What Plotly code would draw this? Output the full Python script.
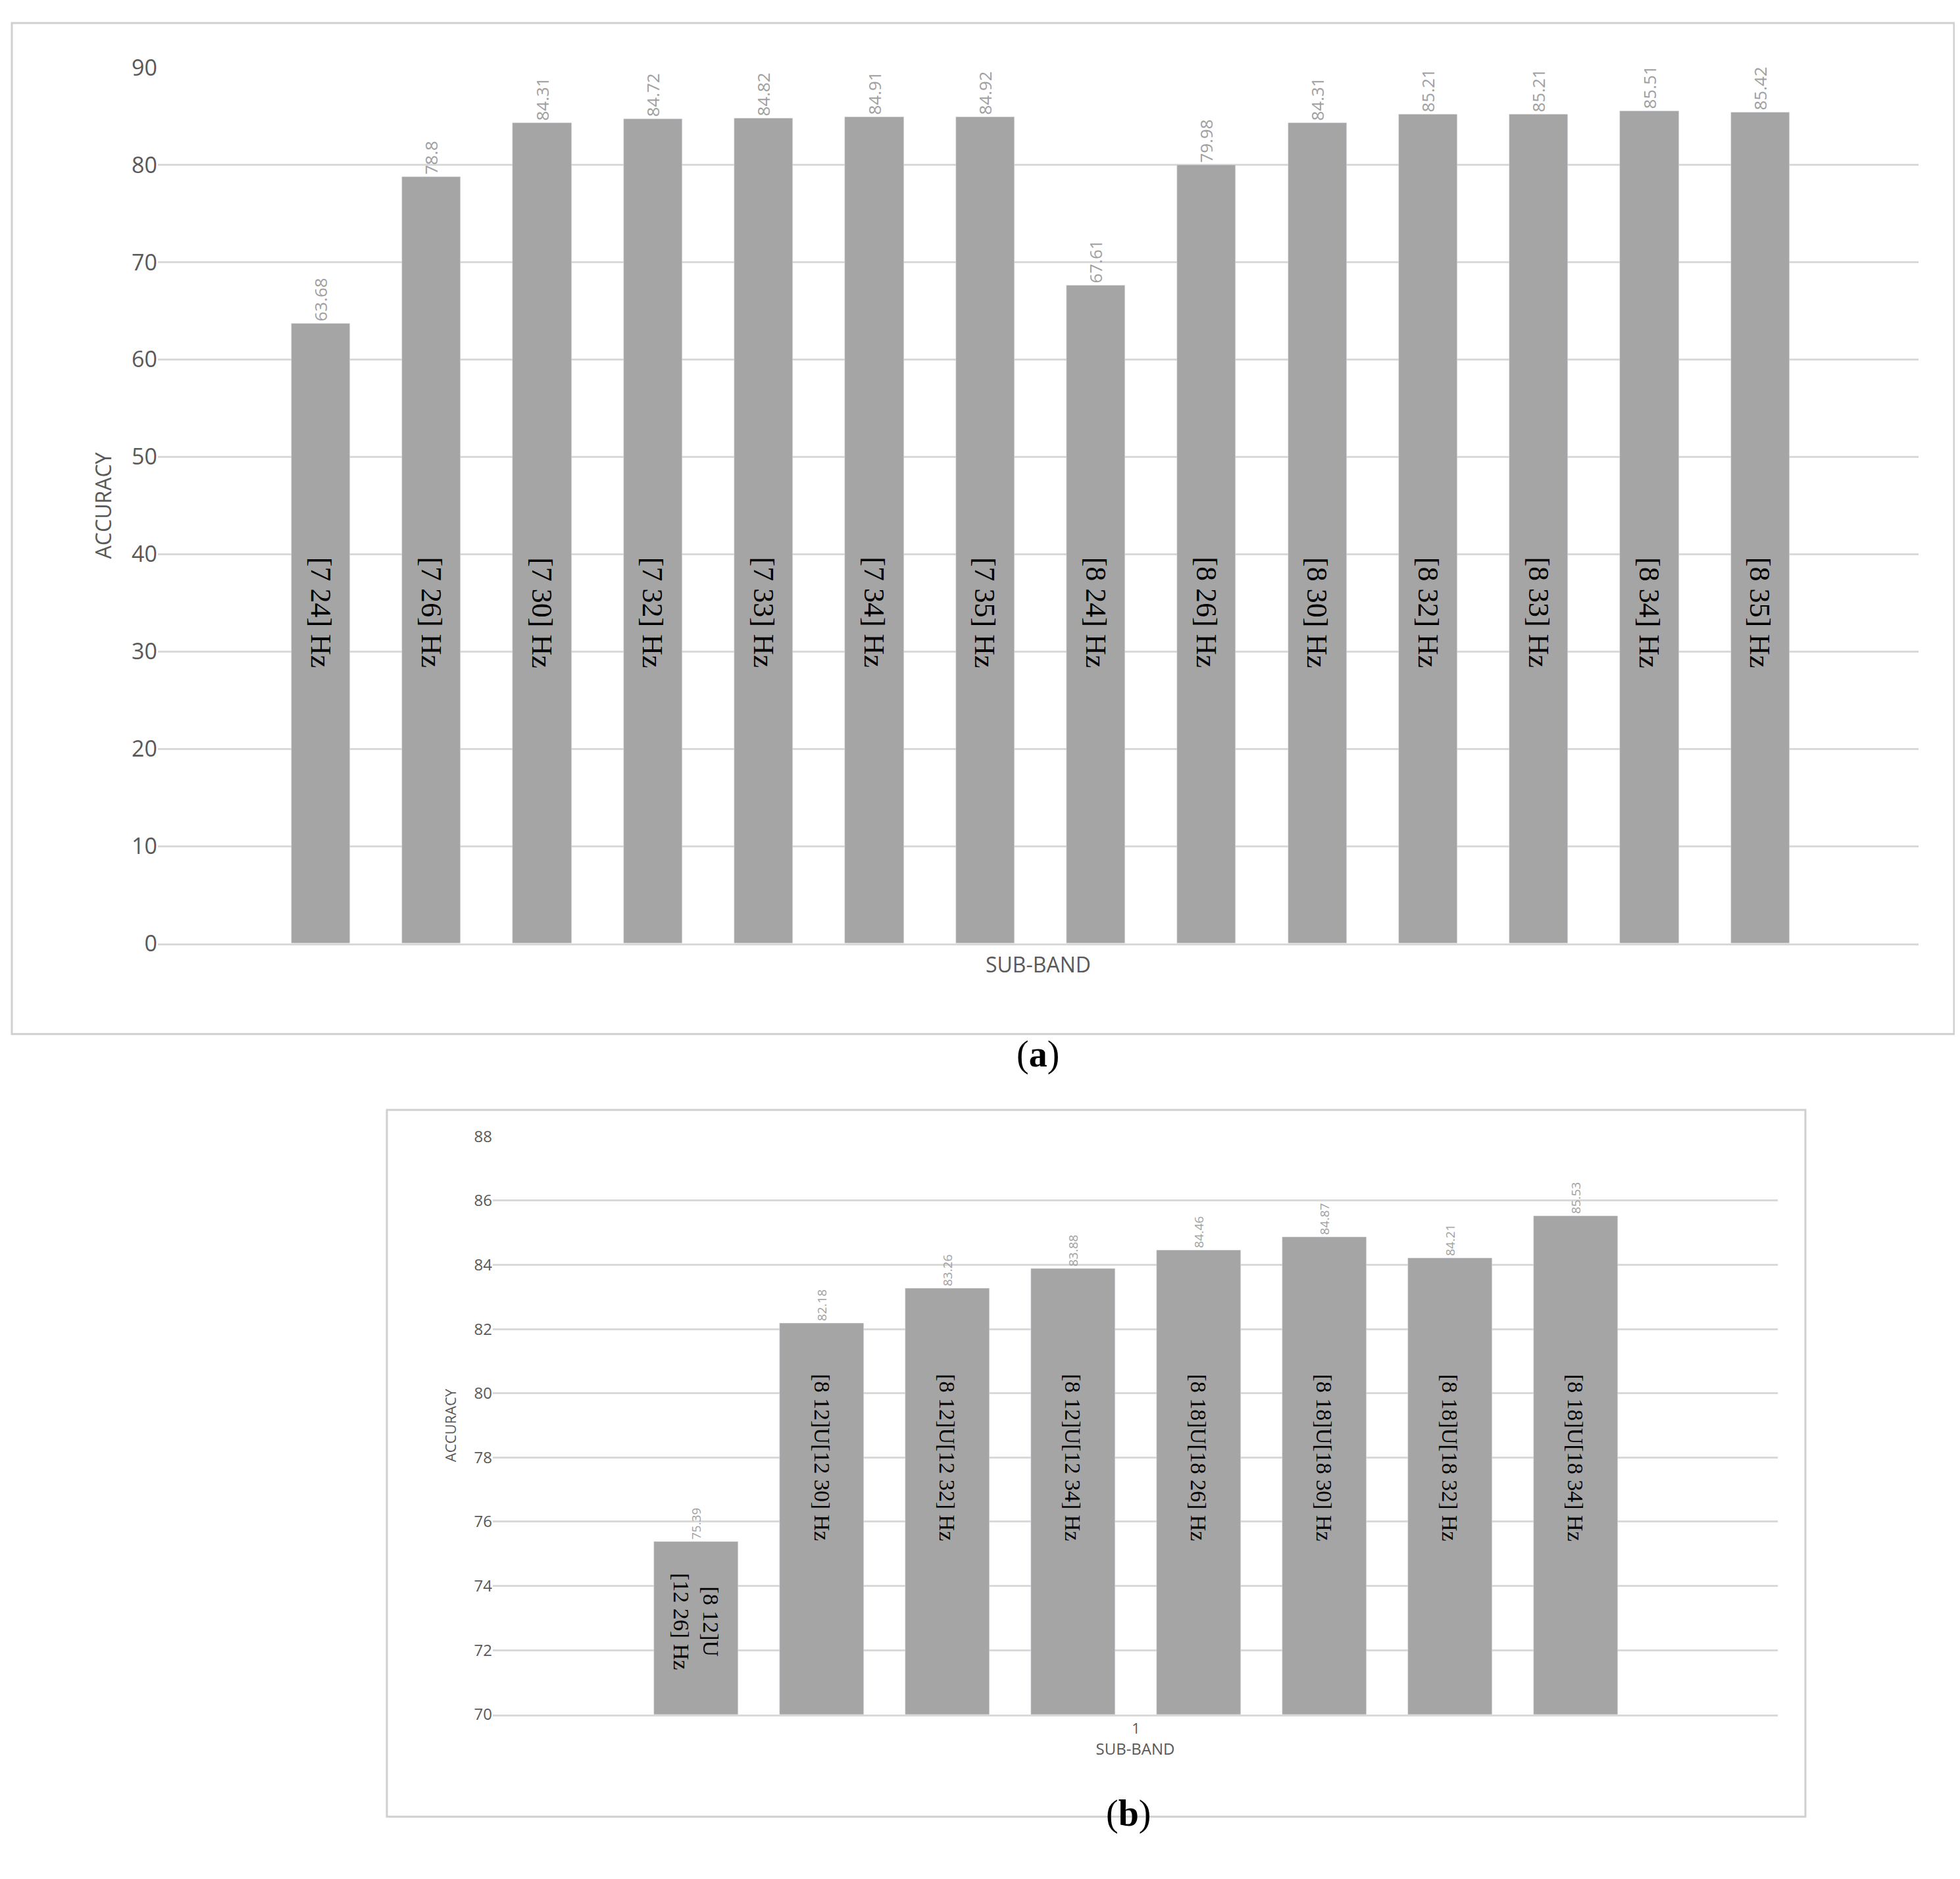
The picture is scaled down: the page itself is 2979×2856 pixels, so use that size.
import plotly.graph_objects as go

bands_a = ["[7 24] Hz","[7 26] Hz","[7 30] Hz","[7 32] Hz","[7 33] Hz","[7 34] Hz","[7 35] Hz",
           "[8 24] Hz","[8 26] Hz","[8 30] Hz","[8 32] Hz","[8 33] Hz","[8 34] Hz","[8 35] Hz"]
acc_a = [63.68,78.8,84.31,84.72,84.82,84.91,84.92,67.61,79.98,84.31,85.21,85.21,85.51,85.42]
bands_b = ["[8 12]U<br>[12 26] Hz","[8 12]U[12 30] Hz","[8 12]U[12 32] Hz","[8 12]U[12 34] Hz",
           "[8 18]U[18 26] Hz","[8 18]U[18 30] Hz","[8 18]U[18 32] Hz","[8 18]U[18 34] Hz"]
acc_b = [75.39,82.18,83.26,83.88,84.46,84.87,84.21,85.53]
ticks_a = list(range(0, 91, 10))
ticks_b = list(range(70, 89, 2))

W, H = 2979, 2856
BAR = "#a5a5a5"; GRID = "#d9d9d9"; TXT = "#595959"; VAL = "#a0a0a0"
xa = list(range(1, len(acc_a)+1))
xb = list(range(1, len(acc_b)+1))

fig = go.Figure()
fig.add_bar(x=xa, y=acc_a, width=0.53, marker_color=BAR, xaxis="x", yaxis="y",
            text=[f"{v:g}" for v in acc_a], textposition="outside", textangle=-90,
            textfont=dict(size=26, color=VAL, family="Open Sans"), cliponaxis=False)
fig.add_bar(x=xb, y=acc_b, width=0.67, marker_color=BAR, xaxis="x2", yaxis="y2",
            text=[f"{v:g}" for v in acc_b], textposition="outside", textangle=-90,
            textfont=dict(size=19, color=VAL, family="Open Sans"), cliponaxis=False)

ann = []
for x, t in zip(xa, bands_a):
    ann.append(dict(x=x, y=34, xref="x", yref="y", text=t, textangle=90, showarrow=False,
                    font=dict(size=44, color="black", family="Liberation Serif")))
for i, (x, t) in enumerate(zip(xb, bands_b)):
    ann.append(dict(x=x, y=72.9 if i == 0 else 78.0, xref="x2", yref="y2", text=t, textangle=90,
                    showarrow=False, font=dict(size=34, color="black", family="Liberation Serif")))
ann.append(dict(x=0.527, y=1-1596/H, xref="paper", yref="paper", text="(<b>a</b>)", showarrow=False,
                font=dict(size=56, color="black", family="Liberation Serif")))
ann.append(dict(x=0.573, y=1-2803/H, xref="paper", yref="paper", text="(<b>b</b>)", showarrow=False,
                font=dict(size=56, color="black", family="Liberation Serif")))

def box(x0, x1, y0, y1):
    return dict(type="rect", xref="paper", yref="paper", x0=x0/W, x1=x1/W, y0=1-y1/H, y1=1-y0/H,
                line=dict(color="#d0d0d0", width=3), fillcolor="rgba(0,0,0,0)", layer="below")

fig.update_layout(
    width=W, height=H, margin=dict(l=0, r=0, t=0, b=0), paper_bgcolor="white", plot_bgcolor="white",
    showlegend=False, annotations=ann, bargap=0,
    shapes=[box(10, 2962, 3, 1565), box(580, 2736, 1682, 2774)],
    xaxis=dict(domain=[232/W, 2908/W], range=[-0.47, 15.43], showticklabels=False, showgrid=False,
               showline=True, linecolor=GRID, linewidth=3, anchor="y",
               title=dict(text="SUB-BAND", font=dict(size=32, color=TXT, family="Open Sans"), standoff=20)),
    yaxis=dict(domain=[1-1425/H, 1-72/H], range=[0, 90], tickvals=ticks_a, gridcolor=GRID, gridwidth=3,
               tickfont=dict(size=34, color=TXT, family="Open Sans"), zeroline=False, anchor="x",
               title=dict(text="ACCURACY", font=dict(size=32, color=TXT, family="Open Sans"), standoff=20)),
    xaxis2=dict(domain=[741/W, 2694/W], range=[-0.62, 9.61], tickvals=[4.5], ticktext=["1"], showgrid=False,
                showline=True, linecolor=GRID, linewidth=3, anchor="y2",
                tickfont=dict(size=22, color=TXT, family="Open Sans"),
                title=dict(text="SUB-BAND", font=dict(size=24, color=TXT, family="Open Sans"), standoff=10)),
    yaxis2=dict(domain=[1-2616/H, 1-1723/H], range=[70, 88], tickvals=ticks_b, gridcolor=GRID, gridwidth=3,
                tickfont=dict(size=24, color=TXT, family="Open Sans"), zeroline=False, anchor="x2",
                title=dict(text="ACCURACY", font=dict(size=22, color=TXT, family="Open Sans"), standoff=20)),
)
fig.write_html("out.html")
